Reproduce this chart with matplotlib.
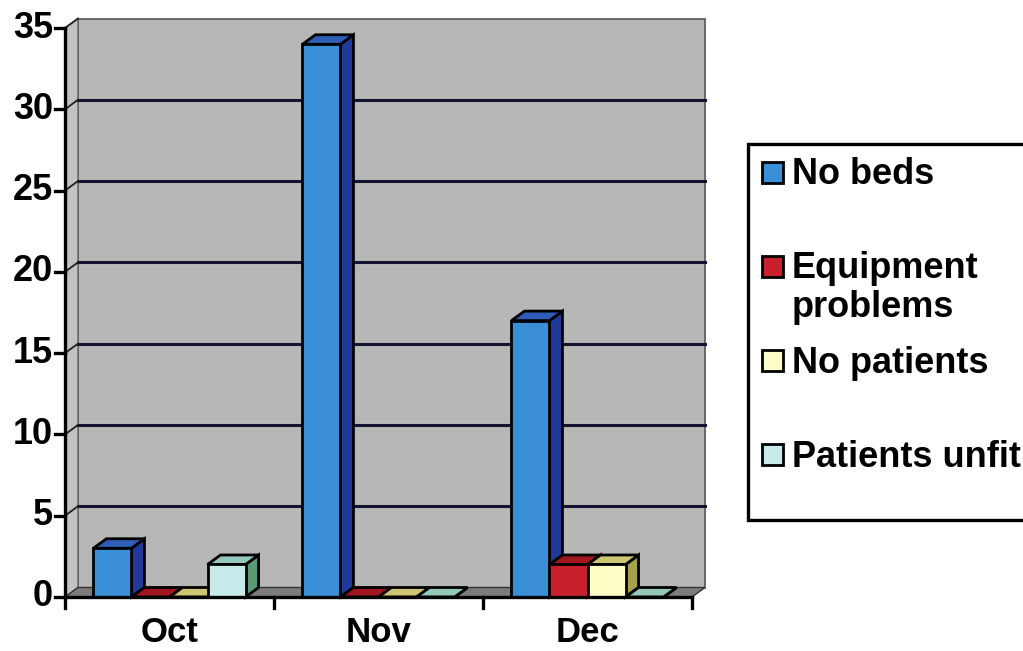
import matplotlib.pyplot as plt
import matplotlib.transforms as mtransforms
from matplotlib.patches import Polygon, Rectangle

months = ['Oct', 'Nov', 'Dec']
series = ['No beds', 'Equipment\nproblems', 'No patients', 'Patients unfit']
no_beds = [3, 34, 17]
equipment = [0, 0, 2]
no_patients = [0, 0, 2]
unfit = [2, 0, 0]
values = [no_beds, equipment, no_patients, unfit]

# front / side / top shades for each series
front_cols = ['#3a8fd6', '#c8202c', '#fdfdc6', '#c6eae9']
side_cols = ['#1f3a9a', '#7c1018', '#a4a050', '#5a9a74']
top_cols = ['#2f5db6', '#a3161f', '#cfc474', '#94c8bc']

yticks = [0, 5, 10, 15, 20, 25, 30, 35]

plt.rcParams['font.family'] = ['Liberation Sans', 'DejaVu Sans']

fig = plt.figure(figsize=(10.23, 6.51), dpi=100)
ax = fig.add_axes([65 / 1023, 54 / 651, 627 / 1023, 569 / 651])
ax.set_xlim(0, 3)
ax.set_ylim(0, 35)
ax.axis('off')

# depth offset of the 3D box, in pixels
dx, dy = 13, 9.5
depth = mtransforms.offset_copy(ax.transData, fig=fig, x=dx, y=dy, units='dots')
base = ax.transData
pix = mtransforms.IdentityTransform()

def quad(p0, p1, **kw):
    # face spanned by an edge on the front plane and the same edge pushed back
    a = base.transform([p0, p1])
    b = depth.transform([p1, p0])
    poly = Polygon(list(a) + list(b), closed=True, transform=pix, clip_on=False, **kw)
    ax.add_patch(poly)
    return poly

def seg(a, b, **kw):
    ax.add_line(plt.Line2D([a[0], b[0]], [a[1], b[1]], transform=pix, clip_on=False, **kw))

wall = '#b7b7b7'
# back wall
ax.add_patch(Rectangle((0, 0), 3, 35, transform=depth, facecolor=wall,
                       edgecolor='#555555', lw=1.2, zorder=0, clip_on=False))
# left side wall
quad((0, 0), (0, 35), facecolor='#c2c2c2', edgecolor='#666666', lw=1, zorder=0.5)
# floor
quad((0, 0), (3, 0), facecolor='#7c7c7c', edgecolor='#333333', lw=1, zorder=0.6)

# gridlines on the back wall plus the short links to the axis
for t in yticks[1:-1]:
    ax.plot([0, 3], [t, t], color='#141432', lw=2.2, transform=depth, zorder=1, clip_on=False)
for t in yticks[1:]:
    seg(base.transform((0, t)), depth.transform((0, t)), color='#222222', lw=1.3, zorder=1)

# bars, left to right so each front face covers the previous side
n = len(series)
gap = 0.136
width = (1 - 2 * gap) / n
z = 2
for m in range(len(months)):
    for s in range(n):
        v = values[s][m]
        x0 = m + gap + s * width
        x1 = x0 + width
        quad((x1, 0), (x1, v), facecolor=side_cols[s], edgecolor='black', lw=2, zorder=z)
        quad((x0, v), (x1, v), facecolor=top_cols[s], edgecolor='black', lw=2, zorder=z)
        if v > 0:
            ax.bar(x0, v, width=width, align='edge', color=front_cols[s], edgecolor='black',
                   lw=2, zorder=z + 0.5, clip_on=False)
        z += 1

# front axes with ticks
ax.plot([0, 0], [0, 35], color='black', lw=2.4, clip_on=False, zorder=50)
ax.plot([0, 3], [0, 0], color='black', lw=2.4, clip_on=False, zorder=50)
for t in yticks:
    p = base.transform((0, t))
    seg((p[0] - 10, p[1]), p, color='black', lw=2.4, zorder=50)
    fig.text((p[0] - 12) / 1023, p[1] / 651, str(t), ha='right', va='center',
             fontsize=26, fontweight='bold')
for k in range(len(months) + 1):
    p = base.transform((k, 0))
    seg(p, (p[0], p[1] - 11), color='black', lw=2.4, zorder=50)
for k, name in enumerate(months):
    p = base.transform((k + 0.5, 0))
    fig.text(p[0] / 1023, (p[1] - 36) / 651, name, ha='center', va='center',
             fontsize=25, fontweight='bold')

# legend box, running off the right edge
fig.add_artist(Rectangle((748 / 1023, (651 - 520) / 651), 0.4, 376 / 651,
                         transform=fig.transFigure, facecolor='white',
                         edgecolor='black', lw=2.4, clip_on=False))
for i, name in enumerate(series):
    yc = 651 - (172 + 94.3 * i)
    fig.add_artist(Rectangle((762 / 1023, (yc - 10.5) / 651), 21 / 1023, 21 / 651,
                             transform=fig.transFigure, facecolor=front_cols[i],
                             edgecolor='black', lw=2))
    fig.text(792 / 1023, (yc + 15) / 651, name, ha='left', va='top',
             fontsize=26, fontweight='bold', linespacing=1.12)

fig.savefig('out.png', dpi=100, facecolor='white')
